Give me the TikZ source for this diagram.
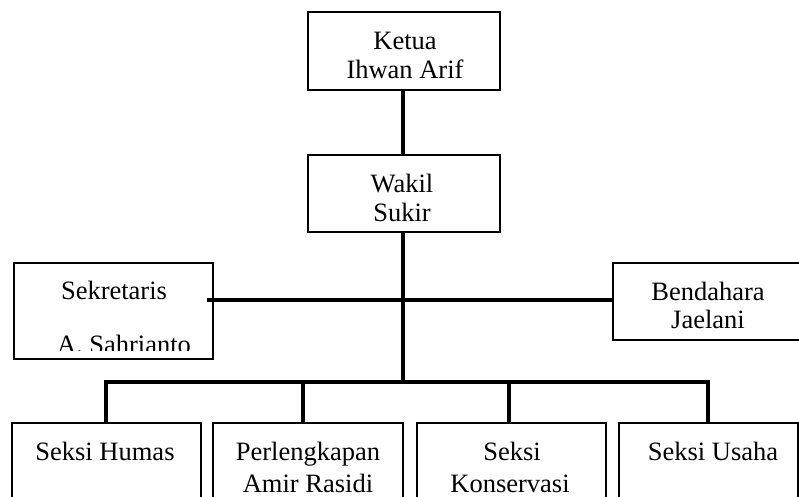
\documentclass[tikz,border=0pt]{standalone}
\usepackage{fontspec}
\setmainfont{Liberation Serif}
\begin{document}
\begin{tikzpicture}[x=1pt,y=-1pt,
  box/.style={draw,line width=1.6pt,rectangle,inner sep=0pt},
  lbl/.style={anchor=base,inner sep=0pt,font=\fontsize{26.5}{30}\selectfont},
  conn/.style={line width=3.2pt}]
\useasboundingbox (0,0) rectangle (799,497);
\clip (0,0) rectangle (799,497);
% boxes
\node[box,minimum width=192pt,minimum height=78pt] (ketua) at (404,51) {};
\node[box,minimum width=192pt,minimum height=77pt] (wakil) at (404,193.5) {};
\node[box,minimum width=199pt,minimum height=96pt] (sekr) at (113.5,311) {};
\node[box,minimum width=200pt,minimum height=77pt] (bend) at (713,301.5) {};
\node[box,minimum width=189pt,minimum height=100pt] (humas) at (106.5,473) {};
\node[box,minimum width=190pt,minimum height=100pt] (perl) at (308,473) {};
\node[box,minimum width=189pt,minimum height=100pt] (kons) at (511.5,473) {};
\node[box,minimum width=179pt,minimum height=100pt] (usaha) at (708.5,473) {};
% texts
\node[lbl] (t1) at (405,50) {Ketua};
\node[lbl] (t2) at (405,79) {Ihwan Arif};
\node[lbl] (t3) at (402,192) {Wakil};
\node[lbl] (t4) at (402,221) {Sukir};
\node[lbl] (t5) at (114,299) {Sekretaris};
\begin{scope}
\clip (0,0) rectangle (799,350.5);
\node[lbl] (t6) at (124,353) {A. Sahrianto};
\end{scope}
\node[lbl] (t7) at (708,300) {Bendahara};
\node[lbl] (t8) at (708,328) {Jaelani};
\node[lbl] (t9) at (105,460) {Seksi Humas};
\node[lbl] (t10) at (308,460) {Perlengkapan};
\node[lbl] (t11) at (308,492) {Amir Rasidi};
\node[lbl] (t12) at (512,460) {Seksi};
\node[lbl] (t13) at (510,492) {Konservasi};
\node[lbl] (t14) at (713,460) {Seksi Usaha};
% connectors
\coordinate (jh) at (403,300);
\coordinate (bus) at (403,382);
\draw[conn] (ketua.south -| jh) -- (wakil.north -| jh);
\draw[conn] (wakil.south -| jh) -- (bus);
\draw[conn] ([xshift=-7pt]sekr.east |- jh) -- (bend.west |- jh);
\draw[conn] (humas.north -| 106,0) |- (bus) -| (usaha.north -| 708,0);
\draw[conn] (303,382) -- (perl.north -| 303,0);
\draw[conn] (509,382) -- (kons.north -| 509,0);
\end{tikzpicture}
\end{document}
